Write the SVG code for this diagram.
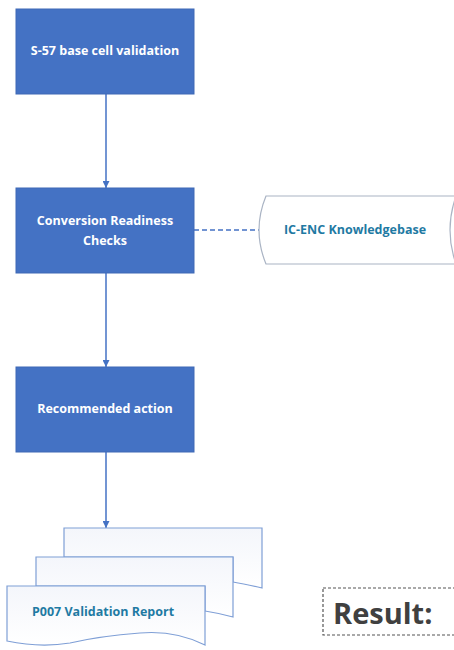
<svg xmlns="http://www.w3.org/2000/svg" width="454" height="650" viewBox="0 0 454 650">
<style>
.box{fill:#4472C4;stroke:#3e68b5;stroke-width:1}
.wt{fill:#ffffff;font-family:"Open Sans","Liberation Sans",sans-serif;font-weight:bold;font-size:12.5px;text-anchor:middle}
.tt{fill:#1f7aa3;font-family:"Open Sans","Liberation Sans",sans-serif;font-weight:bold;font-size:12.5px;text-anchor:middle}
.doc{fill:url(#g);stroke:#7f9fd6;stroke-width:1.2}
.con{stroke:#4472C4;stroke-width:1.5;fill:none}
</style>
<defs>
<linearGradient id="g" x1="0" y1="0" x2="0" y2="1">
<stop offset="0" stop-color="#f4f6fb"/><stop offset="1" stop-color="#ffffff"/>
</linearGradient>
<marker id="ah" viewBox="0 0 10 10" refX="10" refY="5" markerWidth="7" markerHeight="7" orient="auto" markerUnits="userSpaceOnUse">
<path d="M0,0 L10,5 L0,10 z" fill="#4472C4"/>
</marker>
</defs>
<g id="connectors">
<line class="con" x1="106" y1="94" x2="106" y2="188" marker-end="url(#ah)"/>
<line class="con" x1="106" y1="273" x2="106" y2="367" marker-end="url(#ah)"/>
<line class="con" x1="106" y1="452" x2="106" y2="528" marker-end="url(#ah)"/>
<line class="con" x1="194" y1="230" x2="259" y2="230" stroke-dasharray="5,3" stroke-width="1.2"/>
</g>
<g id="n1"><rect class="box" x="16" y="9" width="178" height="85"/><text class="wt" x="105" y="55">S-57 base cell validation</text></g>
<g id="n2"><rect class="box" x="16" y="188" width="178" height="85"/><text class="wt" x="105" y="225">Conversion Readiness</text><text class="wt" x="105" y="245">Checks</text></g>
<g id="n3"><rect class="box" x="16" y="367" width="178" height="85"/><text class="wt" x="105" y="413">Recommended action</text></g>
<g id="kb">
<path d="M266,196 L456,196 Q444,230 456,264 L266,264 Q252,230 266,196 Z" fill="#ffffff" stroke="#aab4c4" stroke-width="1.2"/>
<text class="tt" x="355" y="234">IC-ENC Knowledgebase</text>
</g>
<g id="report">
<path class="doc" d="M64,528 L262,528 L262,588 Q245,584 233,582 L233,557 L64,557 Z"/>
<path class="doc" d="M36,557 L233,557 L233,617 Q218,613 205,611 L205,586 L36,586 Z"/>
<path class="doc" d="M7,586 L205,586 L205,645 Q175,630 140,633 Q100,636 70,643 Q40,648 7,641 Z"/>
<text class="tt" x="103" y="616">P007 Validation Report</text>
</g>
<g id="result">
<rect x="323" y="588" width="140" height="47" fill="#ffffff" stroke="#555555" stroke-width="1.2" stroke-dasharray="3,2"/>
<text x="333" y="624" fill="#404040" font-family="Open Sans,Liberation Sans,sans-serif" font-weight="bold" font-size="29px">Result:</text>
</g>
</svg>
